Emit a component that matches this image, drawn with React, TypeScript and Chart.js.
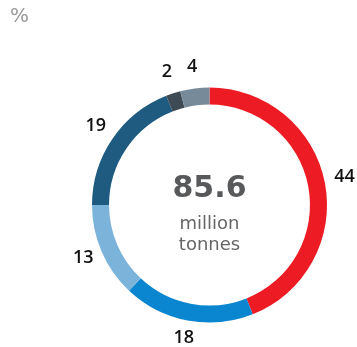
import React, { useEffect, useRef } from "react";
import { Chart, registerables } from "chart.js";

Chart.register(...registerables);

const categories = ["A", "B", "C", "D", "E", "F"];
const values = [44, 18, 13, 19, 2, 4];
const colors = ["#ED1C24", "#0A86D0", "#7BB3DA", "#1F5B80", "#3E4B55", "#768A99"];
const unitLabel = "%";
const totalValue = "85.6";
const totalUnitLines = ["million", "tonnes"];

const labelPlugin = {
  id: "ringLabels",
  afterDraw(chart: any) {
    const ctx = chart.ctx;
    const meta = chart.getDatasetMeta(0);
    ctx.save();
    ctx.fillStyle = "#111111";
    ctx.font = "600 18px 'Open Sans'";
    ctx.textAlign = "center";
    ctx.textBaseline = "middle";
    meta.data.forEach((arc: any, i: number) => {
      const mid = (arc.startAngle + arc.endAngle) / 2;
      const r = arc.outerRadius + 20;
      ctx.fillText(String(values[i]), arc.x + Math.cos(mid) * r, arc.y + Math.sin(mid) * r - 2);
    });
    const a = chart.chartArea;
    const cx = (a.left + a.right) / 2;
    const cy = (a.top + a.bottom) / 2;
    ctx.fillStyle = "#58595B";
    ctx.font = "bold 30px 'DejaVu Sans'";
    ctx.fillText(totalValue, cx, cy - 16);
    ctx.fillStyle = "#666666";
    ctx.font = "18px 'DejaVu Sans'";
    ctx.fillText(totalUnitLines[0], cx, cy + 19);
    ctx.fillText(totalUnitLines[1], cx, cy + 40);
    ctx.fillStyle = "#999999";
    ctx.font = "20px 'DejaVu Sans'";
    ctx.textAlign = "left";
    ctx.fillText(unitLabel, 10, 17);
    ctx.restore();
  },
};

export default function App() {
  const ref = useRef<HTMLCanvasElement>(null);
  useEffect(() => {
    if (!ref.current) return;
    const chart = new Chart(ref.current, {
      type: "doughnut",
      data: {
        labels: categories,
        datasets: [
          {
            data: values,
            backgroundColor: colors,
            borderWidth: 0,
          },
        ],
      },
      options: {
        responsive: false,
        animation: false,
        cutout: "85.5%",
        layout: { padding: { left: 92, right: 30, top: 87, bottom: 24 } },
        plugins: { legend: { display: false }, tooltip: { enabled: false } },
      },
      plugins: [labelPlugin],
    });
    return () => chart.destroy();
  }, []);
  return (
    <div style={{ position: "fixed", left: 0, top: 0, width: 357, height: 347, background: "#fff" }}>
      <canvas ref={ref} width={357} height={347} />
    </div>
  );
}
